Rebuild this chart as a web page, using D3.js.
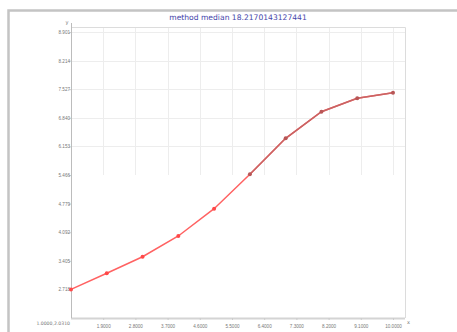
<!DOCTYPE html>
<html>
<head>
<meta charset="utf-8">
<script src="https://cdn.jsdelivr.net/npm/d3@7/dist/d3.min.js"></script>
<style>
  html, body { margin: 0; padding: 0; background: #fff; }
  svg { display: block; font-family: "DejaVu Sans", sans-serif; }
</style>
</head>
<body>
<svg id="chart" width="457" height="332"></svg>
<script>
// --- data ---
const chartTitle = "method median 18.2170143127441";
const xValues = [1, 2, 3, 4, 5, 6, 7, 8, 9, 10];
const yValues = [2.7183, 3.105, 3.503, 4.001, 4.657, 5.483, 6.347, 6.987, 7.308, 7.443];
const xTicks = [1.9, 2.8, 3.7, 4.6, 5.5, 6.4, 7.3, 8.2, 9.1, 10.0];
const yTicks = [2.718, 3.405, 4.092, 4.779, 5.466, 6.153, 6.840, 7.527, 8.214, 8.901];
const xMin = 1, yMin = 2.031;

const svg = d3.select("#chart");

// outer panel border (top + left)
svg.append("path")
  .attr("d", "M8.5,332 L8.5,10.5 L457,10.5")
  .attr("fill", "none")
  .attr("stroke", "#c4c4c4")
  .attr("stroke-width", 2.5);

const left = 71, bottom = 318, frameTop = 27, frameRight = 405;
const x = d3.scaleLinear().domain([xMin, d3.max(xTicks)]).range([left, 393]);
const y = d3.scaleLinear().domain([yMin, d3.max(yTicks)]).range([bottom, 32]);

// grid (only shows in the upper part of the plot)
const gridFrom = y(yTicks[4]);
const grid = svg.append("g").attr("stroke", "#ededed").attr("stroke-width", 1);
grid.selectAll("line.v").data(xTicks).enter().append("line")
  .attr("x1", d => Math.round(x(d)) + 0.5).attr("x2", d => Math.round(x(d)) + 0.5)
  .attr("y1", frameTop).attr("y2", gridFrom);
grid.selectAll("line.h").data(yTicks.slice(5)).enter().append("line")
  .attr("x1", left).attr("x2", frameRight)
  .attr("y1", d => Math.round(y(d)) + 0.5).attr("y2", d => Math.round(y(d)) + 0.5);

// frame top + right
svg.append("path")
  .attr("d", `M${left},${frameTop + 0.5} L${frameRight + 0.5},${frameTop + 0.5} L${frameRight + 0.5},${bottom}`)
  .attr("fill", "none").attr("stroke", "#dcdcdc");

// axes
const xAxis = svg.append("g").attr("transform", `translate(0,${bottom})`)
  .call(d3.axisBottom(x).tickValues(xTicks).tickSize(2).tickFormat(d => d.toFixed(4)));
const yAxis = svg.append("g").attr("transform", `translate(${left},0)`)
  .call(d3.axisLeft(y).tickValues(yTicks).tickSize(2).tickFormat(d => d.toFixed(3)));

xAxis.select(".domain").attr("d", `M${left},0.5H${frameRight}`).attr("stroke", "#d4d4d4").attr("stroke-width", 2);
yAxis.select(".domain").attr("d", `M0.5,${frameTop - 4}V${bottom}`).attr("stroke", "#bcbcbc");
[xAxis, yAxis].forEach(a => {
  a.selectAll(".tick line").attr("stroke", "#cccccc");
  a.selectAll(".tick text").attr("fill", "#777").attr("font-size", 4.6);
});
xAxis.selectAll(".tick text").attr("dy", "1em");
yAxis.selectAll(".tick text").attr("x", -1);

// origin label
svg.append("text")
  .attr("x", left - 1).attr("y", bottom + 6.5)
  .attr("text-anchor", "end").attr("font-size", 4.6).attr("fill", "#777")
  .text(xMin.toFixed(4) + "," + yMin.toFixed(4));

// axis names
svg.append("text").attr("x", 67).attr("y", 24).attr("font-size", 5).attr("fill", "#777")
  .attr("text-anchor", "middle").text("y");
svg.append("text").attr("x", 407).attr("y", 324).attr("font-size", 5).attr("fill", "#777").text("x");

// title
svg.append("text")
  .attr("x", 238).attr("y", 20)
  .attr("text-anchor", "middle").attr("font-size", 7.6).attr("fill", "#4444aa")
  .text(chartTitle);

// line + markers
const pts = xValues.map((d, i) => [d, yValues[i]]);
const line = d3.line().x(d => x(d[0])).y(d => y(d[1]));

svg.append("defs").append("clipPath").attr("id", "upper")
  .append("rect").attr("x", 0).attr("y", 0).attr("width", 457).attr("height", gridFrom);

svg.append("path").datum(pts)
  .attr("d", line).attr("fill", "none")
  .attr("stroke", "#ff6262").attr("stroke-width", 1.5);
svg.append("path").datum(pts)
  .attr("d", line).attr("fill", "none").attr("clip-path", "url(#upper)")
  .attr("stroke", "#c86464").attr("stroke-width", 1.5);

svg.selectAll("circle.pt").data(pts).enter().append("circle")
  .attr("cx", d => x(d[0])).attr("cy", d => y(d[1])).attr("r", 2)
  .attr("fill", d => y(d[1]) < gridFrom ? "#b85656" : "#ff4848");
</script>
</body>
</html>
